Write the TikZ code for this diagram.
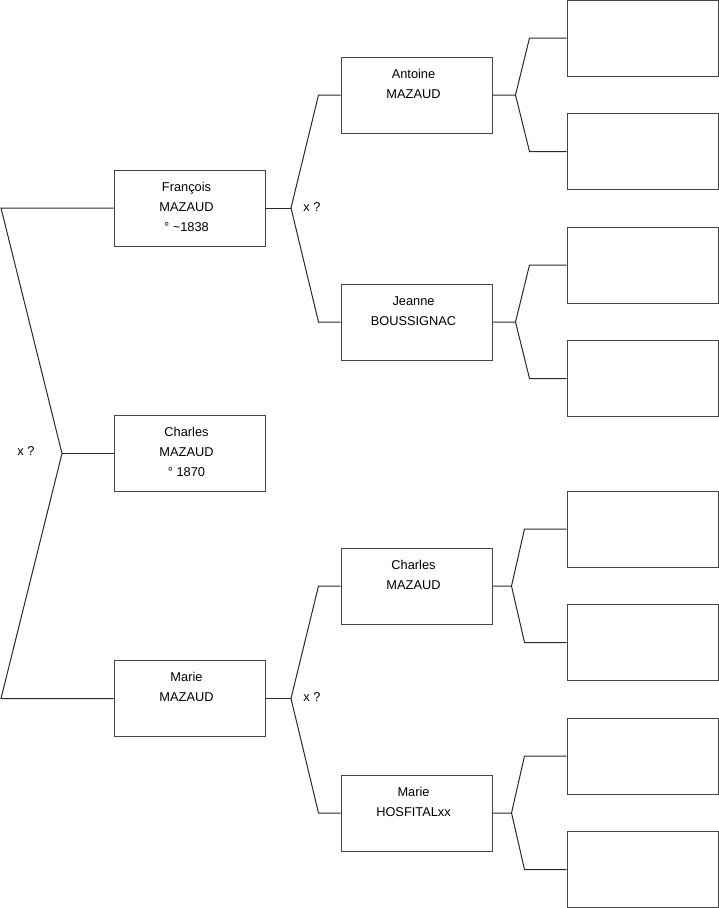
\documentclass[tikz,border=0pt]{standalone}
\usepackage{fontspec}
\setmainfont{Liberation Sans}
\usetikzlibrary{positioning,calc}
\definecolor{treeLine}{RGB}{40, 40, 40}
\definecolor{treeBox}{RGB}{70, 70, 70}

\begin{document}
\begin{tikzpicture}[
  x=1pt,y=-1pt,
  person/.style={
    draw=treeBox,
    line width=1pt,
    minimum width=151pt,
    minimum height=76pt,
    inner sep=0pt
  },
  who/.style={
    anchor=north,
    inner sep=0pt,
    xshift=-3pt,
    yshift=-12.5pt,
    align=center,
    font=\fontsize{12.8}{20}\selectfont
  },
  union/.style={font=\fontsize{12.8}{14}\selectfont,inner sep=0pt},
  link/.style={treeLine,line width=1pt,line join=miter}
]
  \useasboundingbox (0,0) rectangle (719,908);
  % generation 1
  \node[person] (fra) at (189.5,208) {};
  \node[who] (fraT) at (fra.north) {François\\MAZAUD\\° \textasciitilde1838};
  \node[person] (cha) at (189.5,453.5) {};
  \node[who] (chaT) at (cha.north) {Charles\\MAZAUD\\° 1870};
  \node[person] (mar) at (189.5,698.5) {};
  \node[who] (marT) at (mar.north) {Marie\\MAZAUD};
  % generation 2
  \node[person] (ant) at (416.5,95) {};
  \node[who] (antT) at (ant.north) {Antoine\\MAZAUD};
  \node[person] (jea) at (416.5,322) {};
  \node[who] (jeaT) at (jea.north) {Jeanne\\BOUSSIGNAC};
  \node[person] (chb) at (416.5,586) {};
  \node[who] (chbT) at (chb.north) {Charles\\MAZAUD};
  \node[person] (mab) at (416.5,813) {};
  \node[who] (mabT) at (mab.north) {Marie\\HOSFITALxx};
  % generation 3 (empty)
  \foreach \n/\y in {a1/38,a2/151.5,j1/265,j2/378.5,c1/529,c2/642.5,m1/756,m2/869.5}
    \node[person] (g\n) at (642.5,\y) {};

  % unions
  \node[union] (x0) at (26,451) {x ?};
  \node[union] (x1) at (312,207) {x ?};
  \node[union] (x2) at (312,697) {x ?};

  % bracket of Charles
  \coordinate (lt) at (1,208);
  \coordinate (lv) at (62,453.5);
  \coordinate (lb) at (1,698.5);
  \draw[link] (fra.west) -- (lt) -- (lv) -- (lb) -- (mar.west);
  \draw[link] (lv) -- (cha.west);

  % bracket of François
  \coordinate (uv) at (291,208);
  \draw[link] (fra.east) -- (uv);
  \draw[link] (ant.west) -- ++(-22,0) coordinate (ut) -- (uv) -- (ut |- jea.west) -- (jea.west);

  % bracket of Marie
  \coordinate (dv) at (291,698.5);
  \draw[link] (mar.east) -- (dv);
  \draw[link] (chb.west) -- ++(-22,0) coordinate (dt) -- (dv) -- (dt |- mab.west) -- (mab.west);

  % brackets of generation 2
  \draw[link] (ant.east) -- ++(23,0) coordinate (av) (ga1.west) -- ++(-37,0) coordinate (aa) -- (av) -- (aa |- ga2.west) -- (ga2.west);
  \draw[link] (jea.east) -- ++(23,0) coordinate (jv) (gj1.west) -- ++(-37,0) coordinate (jj) -- (jv) -- (jj |- gj2.west) -- (gj2.west);
  \draw[link] (chb.east) -- ++(19,0) coordinate (cv) (gc1.west) -- ++(-42,0) coordinate (cc) -- (cv) -- (cc |- gc2.west) -- (gc2.west);
  \draw[link] (mab.east) -- ++(19,0) coordinate (mv) (gm1.west) -- ++(-42,0) coordinate (mm) -- (mv) -- (mm |- gm2.west) -- (gm2.west);
\end{tikzpicture}
\end{document}
